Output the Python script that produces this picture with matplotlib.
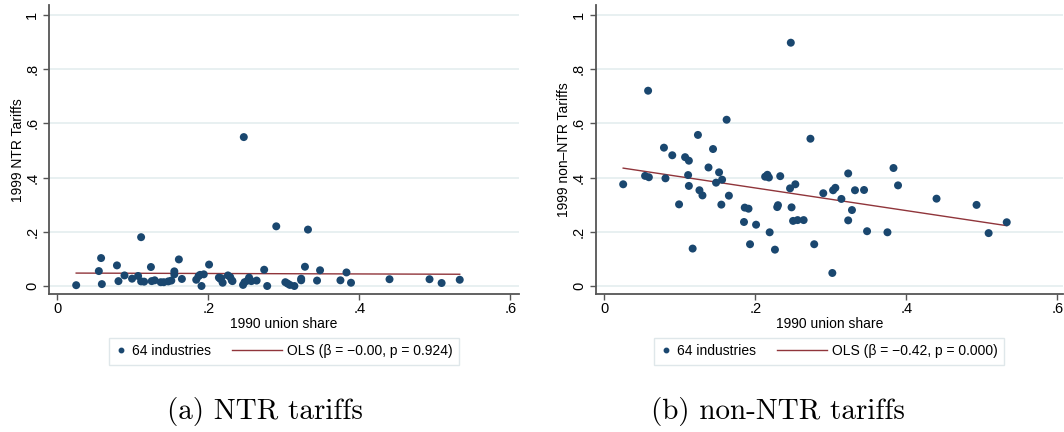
import numpy as np
import matplotlib
matplotlib.use("Agg")
import matplotlib.pyplot as plt
from matplotlib.lines import Line2D
from matplotlib.legend_handler import HandlerBase

# ---------------- data ----------------
union_a = [0.025, 0.055, 0.058, 0.059, 0.079, 0.081, 0.089, 0.099, 0.107, 0.111,
           0.111, 0.115, 0.124, 0.125, 0.129, 0.137, 0.141, 0.147, 0.151, 0.155,
           0.155, 0.161, 0.165, 0.184, 0.187, 0.189, 0.191, 0.194, 0.201, 0.214,
           0.216, 0.217, 0.219, 0.226, 0.229, 0.231, 0.232, 0.246, 0.247, 0.248,
           0.252, 0.254, 0.257, 0.264, 0.274, 0.278, 0.290, 0.302, 0.305, 0.308,
           0.314, 0.323, 0.323, 0.328, 0.332, 0.344, 0.348, 0.375, 0.383, 0.389,
           0.440, 0.493, 0.509, 0.533]
ntr_tariff = [0.003, 0.055, 0.103, 0.007, 0.076, 0.018, 0.039, 0.027, 0.037, 0.180,
              0.017, 0.016, 0.070, 0.018, 0.021, 0.014, 0.014, 0.017, 0.020, 0.043,
              0.054, 0.098, 0.026, 0.023, 0.036, 0.041, 0.000, 0.043, 0.079, 0.031,
              0.026, 0.029, 0.012, 0.039, 0.033, 0.021, 0.018, 0.004, 0.549, 0.014,
              0.020, 0.031, 0.018, 0.020, 0.060, 0.000, 0.220, 0.014, 0.009, 0.004,
              0.000, 0.021, 0.027, 0.071, 0.208, 0.020, 0.058, 0.021, 0.050, 0.012,
              0.025, 0.025, 0.011, 0.023]

union_b = [0.025, 0.058, 0.054, 0.059, 0.079, 0.081, 0.090, 0.099, 0.107, 0.112,
           0.111, 0.112, 0.117, 0.124, 0.126, 0.130, 0.138, 0.144, 0.148, 0.152,
           0.156, 0.155, 0.162, 0.165, 0.185, 0.186, 0.191, 0.193, 0.201, 0.213,
           0.216, 0.218, 0.219, 0.226, 0.233, 0.229, 0.230, 0.247, 0.246, 0.248,
           0.253, 0.250, 0.256, 0.264, 0.273, 0.278, 0.290, 0.302, 0.303, 0.306,
           0.314, 0.323, 0.328, 0.323, 0.332, 0.344, 0.348, 0.375, 0.383, 0.389,
           0.440, 0.493, 0.509, 0.533]
nonntr_tariff = [0.375, 0.720, 0.406, 0.401, 0.510, 0.397, 0.482, 0.301, 0.475, 0.462,
                 0.409, 0.369, 0.138, 0.557, 0.353, 0.334, 0.437, 0.505, 0.381, 0.419,
                 0.392, 0.300, 0.613, 0.333, 0.236, 0.289, 0.285, 0.154, 0.226, 0.403,
                 0.410, 0.400, 0.198, 0.134, 0.405, 0.291, 0.298, 0.897, 0.360, 0.290,
                 0.375, 0.240, 0.243, 0.243, 0.543, 0.154, 0.342, 0.048, 0.353, 0.362,
                 0.321, 0.415, 0.280, 0.242, 0.353, 0.354, 0.202, 0.198, 0.435, 0.371,
                 0.322, 0.299, 0.195, 0.235]

y_ticks = [0, 0.2, 0.4, 0.6, 0.8, 1.0]
y_ticklabels = ["0", ".2", ".4", ".6", ".8", "1"]
x_ticks = [0, 0.2, 0.4, 0.6]
x_ticklabels = ["0", ".2", ".4", ".6"]

xlabel = "1990 union share"
ylabels = ["1999 NTR Tariffs", "1999 non\u2013NTR Tariffs"]
scatter_label = "64 industries"
ols_labels = ["OLS (\u03b2 = \u22120.00, p = 0.924)", "OLS (\u03b2 = \u22120.42, p = 0.000)"]
captions = ["(a) NTR tariffs", "(b) non-NTR tariffs"]

# ---------------- style ----------------
NAVY = "#1a476f"
MAROON = "#90353b"
GRID = "#e4edef"
SPINE = "#555555"
plt.rcParams["font.family"] = ["Liberation Sans", "DejaVu Sans"]
plt.rcParams["font.size"] = 10

W, H = 1064, 432
fig = plt.figure(figsize=(W / 100, H / 100), dpi=100)


class WideLine(HandlerBase):
    def create_artists(self, legend, orig_handle, xdescent, ydescent,
                       width, height, fontsize, trans):
        y = height / 2 - ydescent
        ln = Line2D([-xdescent - 3.5 * width, -xdescent + width], [y, y],
                    color=orig_handle.get_color(), lw=orig_handle.get_linewidth())
        ln.set_transform(trans)
        return [ln]


def px_axes(l, r, t, b):
    return [l / W, 1 - b / H, (r - l) / W, (b - t) / H]


panels = [
    dict(rect=px_axes(49, 519, 5, 294.3), x=union_a, y=ntr_tariff,
         xlim=(-0.011, 0.6115), ylab=ylabels[0], ols=ols_labels[0],
         leg_cx=284, cap_cx=265),
    dict(rect=px_axes(595.7, 1063, 5, 294.3), x=union_b, y=nonntr_tariff,
         xlim=(-0.0114, 0.6075), ylab=ylabels[1], ols=ols_labels[1],
         leg_cx=829, cap_cx=778),
]

for i, p in enumerate(panels):
    ax = fig.add_axes(p["rect"])
    ax.set_xlim(*p["xlim"])
    ax.set_ylim(-0.0306, 1.036)
    for s in ["top", "right"]:
        ax.spines[s].set_visible(False)
    for s in ["left", "bottom"]:
        ax.spines[s].set_color(SPINE)
        ax.spines[s].set_linewidth(1.3)
    ax.set_yticks(y_ticks)
    ax.set_yticklabels(y_ticklabels)
    ax.set_xticks(x_ticks)
    ax.set_xticklabels(x_ticklabels)
    ax.tick_params(direction="out", length=4, width=1, color=SPINE, labelsize=10.5)
    ax.tick_params(axis="x", pad=1.5)
    ax.tick_params(axis="y", pad=3)
    for t in ax.get_yticklabels():
        t.set_rotation(90)
        t.set_va("center")
        t.set_ha("right")
    ax.grid(axis="y", color=GRID, lw=1.2)
    ax.set_axisbelow(True)

    x = np.array(p["x"])
    y = np.array(p["y"])
    ax.scatter(x, y, s=33, color=NAVY, edgecolors="none", zorder=3)
    b1, b0 = np.polyfit(x, y, 1)
    xs = np.array([x.min(), x.max()])
    ax.plot(xs, b0 + b1 * xs, color=MAROON, lw=1.0, zorder=2)

    ax.set_xlabel(xlabel, fontsize=10, labelpad=1)
    ax.set_ylabel(p["ylab"], fontsize=10, labelpad=0.5)

    h1 = Line2D([], [], marker="o", ls="None", color=NAVY, ms=3.2)
    h2 = Line2D([], [], color=MAROON, lw=1.0)
    leg = fig.legend([h1, h2], [scatter_label, p["ols"]], ncol=2,
                     loc="center", bbox_to_anchor=(p["leg_cx"] / W, 1 - 351.3 / H),
                     handlelength=0.8, handletextpad=0.4, columnspacing=4.3,
                     borderpad=0.45, fancybox=False, framealpha=1,
                     edgecolor="#dfe7ea", fontsize=10, numpoints=1,
                     handler_map={h2: WideLine()})
    leg.get_frame().set_linewidth(1.0)

    fig.text(p["cap_cx"] / W, 1 - 419 / H, captions[i],
             family="cmr10", fontsize=21, ha="center", va="baseline")

fig.savefig("out.png", dpi=100)
